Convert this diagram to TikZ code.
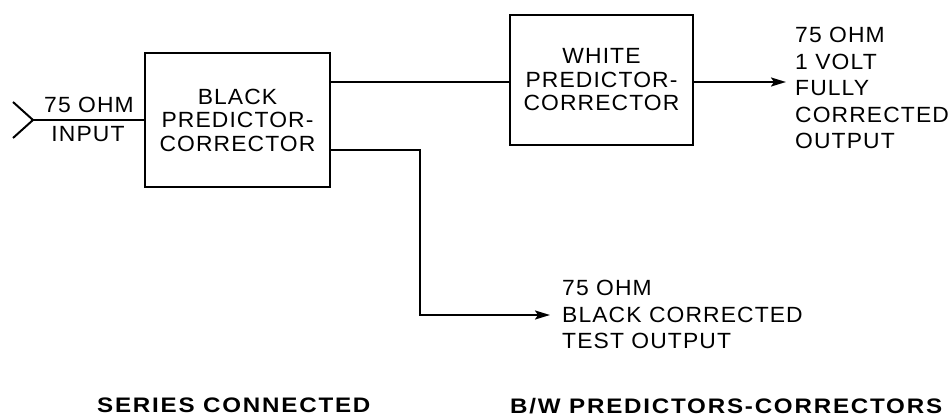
\documentclass[tikz,border=0pt]{standalone}
\usepackage{fontspec}
\setmainfont{Liberation Sans}[LetterSpace=5,FakeStretch=1.04]
\newfontfamily\titlefont{Liberation Sans Bold}[LetterSpace=8.5,FakeStretch=1.15]
\usetikzlibrary{arrows.meta}
\begin{document}
\begin{tikzpicture}[x=1pt,y=-1pt,
  box/.style={draw,line width=2.6pt,inner sep=0pt,align=center,
    font=\fontsize{22}{23.5}\selectfont},
  wire/.style={line width=2pt,line join=miter},
  tip/.style={-{Stealth[length=15pt,width=9pt,inset=3pt]}},
  lbl/.style={inner sep=0pt,font=\fontsize{22}{26.5}\selectfont},
  ttl/.style={inner sep=0pt,anchor=north west,font=\titlefont\fontsize{21}{24}\selectfont}]
\useasboundingbox (0,0) rectangle (950,417);
% boxes
\node[box,minimum width=185pt,minimum height=134pt] (blk) at (237.5,120)
  {BLACK\\PREDICTOR-\\CORRECTOR};
\node[box,minimum width=183pt,minimum height=130pt] (wht) at (601.5,80)
  {WHITE\\PREDICTOR-\\CORRECTOR};
% input
\coordinate (chev) at (33,120);
\coordinate (chevt) at (13,102);
\coordinate (chevb) at (13,138);
\draw[wire] (chevt) -- (chev) -- (chevb);
\draw[wire] (chev) -- (blk.west);
\node[lbl,anchor=north] (inA) at (89,97) {75 OHM};
\node[lbl,anchor=north] (inB) at (88,126) {INPUT};
% between boxes
\draw[wire] ([yshift=-2pt]blk.east |- wht.west) -- ([yshift=-2pt]wht.west);
% full output
\coordinate (out) at (786,82);
\draw[wire,tip] ([yshift=-2pt]wht.east) -- (out);
\node[lbl,anchor=north west,align=left] (outL) at (795,27)
  {75 OHM\\1 VOLT\\FULLY\\CORRECTED\\OUTPUT};
% test output
\coordinate (tst) at (550,315);
\coordinate (bend) at (420,150);
\draw[wire,tip] ([yshift=-30pt]blk.east) -- (bend) |- (tst);
\node[lbl,anchor=north west,align=left] (tstL) at (562,280)
  {75 OHM\\BLACK CORRECTED\\TEST OUTPUT};
% titles
\node[ttl] (t1) at (97,398) {SERIES CONNECTED};
\node[ttl] (t2) at (510,398) {B/W PREDICTORS-CORRECTORS};
\end{tikzpicture}
\end{document}
